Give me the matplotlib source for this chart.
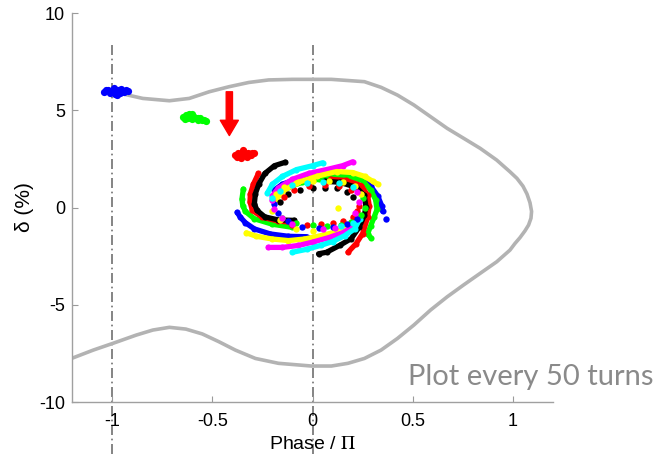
import numpy as np
import matplotlib
matplotlib.use("Agg")
import matplotlib.pyplot as plt

plt.rcParams['font.family'] = ['Liberation Sans', 'DejaVu Sans']
plt.rcParams['mathtext.fontset'] = 'stix'
plt.rcParams['axes.unicode_minus'] = False

# pure MATLAB-style colour order
B, G, R, C, M, Y, K = '#0000ff', '#00ff00', '#ff0000', '#00ffff', '#ff00ff', '#ffff00', '#000000'

# separatrix of the bucket (phase / pi, delta in %)
sep_x = [-0.946, -0.847, -0.714, -0.615, -0.516, -0.417, -0.318, -0.219, -0.1,
         0.094, 0.259, 0.342, 0.424, 0.506, 0.589, 0.672, 0.754, 0.837, 0.919,
         0.985, 1.02, 1.05, 1.07, 1.085, 1.093, 1.09, 1.078, 1.06, 1.035, 1.01,
         0.985, 0.919, 0.837, 0.754, 0.672, 0.589, 0.506, 0.424, 0.342, 0.259,
         0.177, 0.094, -0.005, -0.17, -0.285, -0.385, -0.467, -0.55, -0.632,
         -0.714, -0.797, -0.88, -0.995, -1.094, -1.2]
sep_y = [5.84, 5.61, 5.49, 5.61, 5.95, 6.21, 6.43, 6.56, 6.59,
         6.59, 6.47, 6.18, 5.78, 5.27, 4.67, 4.07, 3.56, 3.04, 2.44,
         1.84, 1.5, 1.1, 0.7, 0.25, -0.2, -0.55, -0.9, -1.2, -1.55, -1.85,
         -2.19, -2.79, -3.38, -3.98, -4.59, -5.27, -6.04, -6.73, -7.33, -7.76,
         -8.01, -8.15, -8.15, -8.01, -7.76, -7.33, -6.9, -6.5, -6.25,
         -6.16, -6.3, -6.56, -6.98, -7.33, -7.75]

# first snapshots, still bunched
blue_cluster_x = [-1.04, -1.02, -1.01, -0.99, -0.98, -0.97, -0.96, -0.95, -0.94,
                  -0.93, -0.92, -1.0, -0.975, -0.955, -1.03, -0.985]
blue_cluster_y = [5.95, 6.05, 5.9, 6.12, 5.95, 6.05, 5.88, 6.0, 5.92,
                  6.02, 5.97, 5.98, 5.8, 6.1, 6.05, 5.85]
green_cluster_x = [-0.645, -0.63, -0.62, -0.61, -0.6, -0.59, -0.58, -0.57,
                   -0.56, -0.55, -0.54, -0.53, -0.6, -0.57, -0.635, -0.615]
green_cluster_y = [4.65, 4.75, 4.6, 4.7, 4.55, 4.68, 4.6, 4.5,
                   4.58, 4.48, 4.52, 4.45, 4.8, 4.62, 4.55, 4.82]
red_cluster_x = [-0.385, -0.37, -0.36, -0.35, -0.34, -0.33, -0.32, -0.31,
                 -0.3, -0.29, -0.355, -0.325, -0.345, -0.375, -0.305]
red_cluster_y = [2.72, 2.8, 2.65, 2.75, 2.85, 2.7, 2.8, 2.75,
                 2.82, 2.78, 2.55, 2.62, 2.95, 2.6, 2.68]

# filamented snapshots (outer arcs)
blue_left_x = [-0.376, -0.36, -0.335, -0.29, -0.21, -0.12, -0.03]
blue_left_y = [-0.25, -0.5, -0.78, -1.1, -1.36, -1.48, -1.5]
green_left_x = [-0.345, -0.352, -0.348, -0.335, -0.29, -0.2, -0.1]
green_left_y = [0.95, 0.45, 0.1, -0.2, -0.58, -0.86, -1.02]
red_left_x = [-0.27, -0.295, -0.31, -0.312, -0.3, -0.25, -0.17, -0.09]
red_left_y = [1.75, 1.2, 0.7, 0.3, -0.15, -0.5, -0.7, -0.77]
black_left_x = [-0.135, -0.19, -0.238, -0.267, -0.285, -0.29, -0.277, -0.238,
                -0.17, -0.09]
black_left_y = [2.33, 2.15, 1.75, 1.23, 0.72, 0.2, -0.15, -0.48, -0.64, -0.66]

cyan_top_x = [-0.225, -0.2, -0.15, -0.08, 0.0, 0.05]
cyan_top_y = [0.75, 1.2, 1.6, 1.95, 2.15, 2.3]
magenta_top_x = [-0.2, -0.17, -0.1, -0.02, 0.07, 0.15, 0.2]
magenta_top_y = [0.6, 1.0, 1.45, 1.75, 1.95, 2.15, 2.35]
yellow_top_x = [-0.18, -0.14, -0.07, 0.02, 0.12, 0.2, 0.26, 0.3, 0.325]
yellow_top_y = [0.45, 0.9, 1.3, 1.6, 1.85, 1.8, 1.6, 1.35, 1.2]

blue_right_x = [-0.19, -0.15, -0.09, -0.02, 0.06, 0.1, 0.17, 0.24, 0.29, 0.325,
                0.345, 0.35]
blue_right_y = [0.9, 1.2, 1.42, 1.55, 1.65, 1.72, 1.7, 1.5, 1.1, 0.6, 0.1, -0.2]
green_right_x = [-0.17, -0.12, -0.05, 0.03, 0.1, 0.17, 0.25, 0.29, 0.315, 0.322,
                 0.307, 0.29, 0.275, 0.29]
green_right_y = [0.75, 1.05, 1.3, 1.45, 1.55, 1.6, 1.39, 0.9, 0.4, -0.1,
                 -0.5, -0.95, -1.35, -1.55]
red_right_x = [0.09, 0.168, 0.243, 0.275, 0.283, 0.275, 0.25, 0.218, 0.177]
red_right_y = [1.45, 1.39, 1.13, 0.62, 0.1, -0.5, -1.34, -1.85, -2.3]
black_right_x = [0.06, 0.135, 0.218, 0.258, 0.267, 0.258, 0.233, 0.193, 0.135,
                 0.07, 0.03]
black_right_y = [1.35, 1.3, 1.04, 0.62, 0.02, -0.4, -1.01, -1.6, -1.95, -2.3,
                 -2.38]

yellow_bottom_x = [-0.33, -0.28, -0.2, -0.12, -0.04, 0.04, 0.12, 0.18]
yellow_bottom_y = [-1.3, -1.48, -1.62, -1.7, -1.62, -1.45, -1.25, -1.0]
magenta_bottom_x = [-0.22, -0.15, -0.07, 0.0, 0.08, 0.15, 0.2, 0.22]
magenta_bottom_y = [-2.05, -2.05, -1.95, -1.78, -1.55, -1.3, -1.0, -0.5]
cyan_bottom_x = [-0.1, -0.03, 0.04, 0.1, 0.16, 0.21, 0.235]
cyan_bottom_y = [-2.3, -2.15, -1.95, -1.75, -1.45, -1.1, -0.6]

# inner dotted rings
black_inner_x = [-0.16, -0.12, -0.06, 0.0, 0.06, 0.12, 0.17, 0.2]
black_inner_y = [0.3, 0.7, 0.92, 1.0, 1.02, 0.98, 0.82, 0.55]
red_inner_x = [-0.1, -0.03, 0.04, 0.1, 0.15, 0.2, 0.22, 0.23, -0.14, -0.09,
               -0.02, 0.06, 0.13, 0.19]
red_inner_y = [-0.9, -0.88, -0.85, -0.8, -0.7, -0.5, -0.2, 0.1, 0.55, 0.9,
               1.1, 1.18, 1.12, 0.92]
green_inner_x = [-0.15, -0.08, 0.0, 0.07, 0.14, 0.19, 0.24, 0.26, 0.25]
green_inner_y = [-0.55, -0.8, -0.92, -0.95, -0.9, -0.75, -0.4, 0.0, 0.5]
blue_inner_x = [-0.19, -0.17, -0.12, -0.05, 0.03, 0.1, 0.17, 0.22]
blue_inner_y = [0.2, -0.3, -0.7, -1.0, -1.05, -1.0, -0.85, -0.6]
yellow_inner_x = [-0.18, -0.14, -0.08, 0.0, 0.08, 0.15, 0.21, 0.24, 0.127,
                  -0.2, -0.16, -0.08, 0.0]
yellow_inner_y = [0.7, 1.05, 1.25, 1.35, 1.38, 1.3, 1.1, 0.7, -0.03,
                  -0.2, -0.65, -1.1, -1.2]
magenta_inner_x = [-0.2, -0.19, -0.15, -0.1, 0.21, 0.23, 0.22, 0.05, 0.11]
magenta_inner_y = [0.4, -0.1, -0.55, -0.85, -0.3, 0.3, 0.8, -1.1, -1.05]
cyan_inner_x = [-0.2, -0.16, -0.1, -0.03, 0.05, 0.13, 0.2, 0.2, 0.14]
cyan_inner_y = [0.5, 0.85, 1.15, 1.28, 1.3, 1.25, 1.05, -0.8, -0.95]

lone_blue_x = [0.366]
lone_blue_y = [-0.57]

# bucket boundaries in phase / pi
guide_x = [-1, 0]

xticks = [-1, -0.5, 0, 0.5, 1]
xtick_labels = ['-1', '-0.5', '0', '0.5', '1']
yticks = [-10, -5, 0, 5, 10]
ytick_labels = ['-10', '-5', '0', '5', '10']

fig = plt.figure(figsize=(6.54, 4.54), dpi=100)
ax = fig.add_axes([0.1101, 0.1145, 0.7355, 0.8568])

ax.plot(sep_x, sep_y, color='#b3b3b3', lw=2.6, solid_capstyle='round',
        solid_joinstyle='round', zorder=2)

for gx in guide_x:
    ax.plot([gx, gx], [8.35, -12.8], color='#707070', lw=1.2,
            dashes=(6, 2.2, 1, 2.2), clip_on=False, zorder=1)

arcs = [
    (B, blue_left_x, blue_left_y), (G, green_left_x, green_left_y),
    (R, red_left_x, red_left_y), (K, black_left_x, black_left_y),
    (B, blue_right_x, blue_right_y), (G, green_right_x, green_right_y),
    (C, cyan_top_x, cyan_top_y), (M, magenta_top_x, magenta_top_y),
    (Y, yellow_top_x, yellow_top_y),
    (R, red_right_x, red_right_y), (K, black_right_x, black_right_y),
    (Y, yellow_bottom_x, yellow_bottom_y),
    (M, magenta_bottom_x, magenta_bottom_y), (C, cyan_bottom_x, cyan_bottom_y),
]
dots = [
    (K, black_inner_x, black_inner_y), (R, red_inner_x, red_inner_y),
    (G, green_inner_x, green_inner_y), (B, blue_inner_x, blue_inner_y),
    (Y, yellow_inner_x, yellow_inner_y), (M, magenta_inner_x, magenta_inner_y),
    (C, cyan_inner_x, cyan_inner_y), (B, lone_blue_x, lone_blue_y),
]
clusters = [
    (B, blue_cluster_x, blue_cluster_y), (G, green_cluster_x, green_cluster_y),
    (R, red_cluster_x, red_cluster_y),
]
for c, x, y in arcs:
    ax.plot(x, y, '-o', color=c, lw=3.8, ms=4.4, mew=0,
            solid_capstyle='round', solid_joinstyle='round', zorder=3)
for c, x, y in dots:
    ax.plot(x, y, 'o', color=c, ms=4.6, mew=0, zorder=3)
for c, x, y in clusters:
    ax.plot(x, y, 'o', color=c, ms=5.2, mew=0, zorder=3)

# injection-direction arrow
ax.annotate('', xy=(-0.415, 3.7), xytext=(-0.415, 5.95),
            arrowprops=dict(arrowstyle='simple,head_width=1.3,head_length=1.1,tail_width=0.45',
                            color='red', shrinkA=0, shrinkB=0))

ax.set_xlim(-1.2, 1.2)
ax.set_ylim(-10, 10)
ax.set_xticks(xticks)
ax.set_xticklabels(xtick_labels)
ax.set_yticks(yticks)
ax.set_yticklabels(ytick_labels)
ax.tick_params(direction='in', length=4, width=0.8, color='#9a9a9a',
               labelsize=13, labelcolor='black')
ax.tick_params(axis='y', pad=5)
ax.tick_params(axis='x', pad=8)

for s in ['top', 'right']:
    ax.spines[s].set_visible(False)
for s in ['left', 'bottom']:
    ax.spines[s].set_color('#a0a0a0')
    ax.spines[s].set_linewidth(1.0)

ax.set_xlabel(r'Phase / $\Pi$', fontsize=14, labelpad=4)
ax.set_ylabel('δ (%)', fontsize=15, labelpad=4)

fig.text(0.624, 0.152, 'Plot every 50 turns', fontsize=21, color='#8a8a8a',
         family=['Lato', 'DejaVu Sans'])

fig.savefig('out.png', dpi=100)
